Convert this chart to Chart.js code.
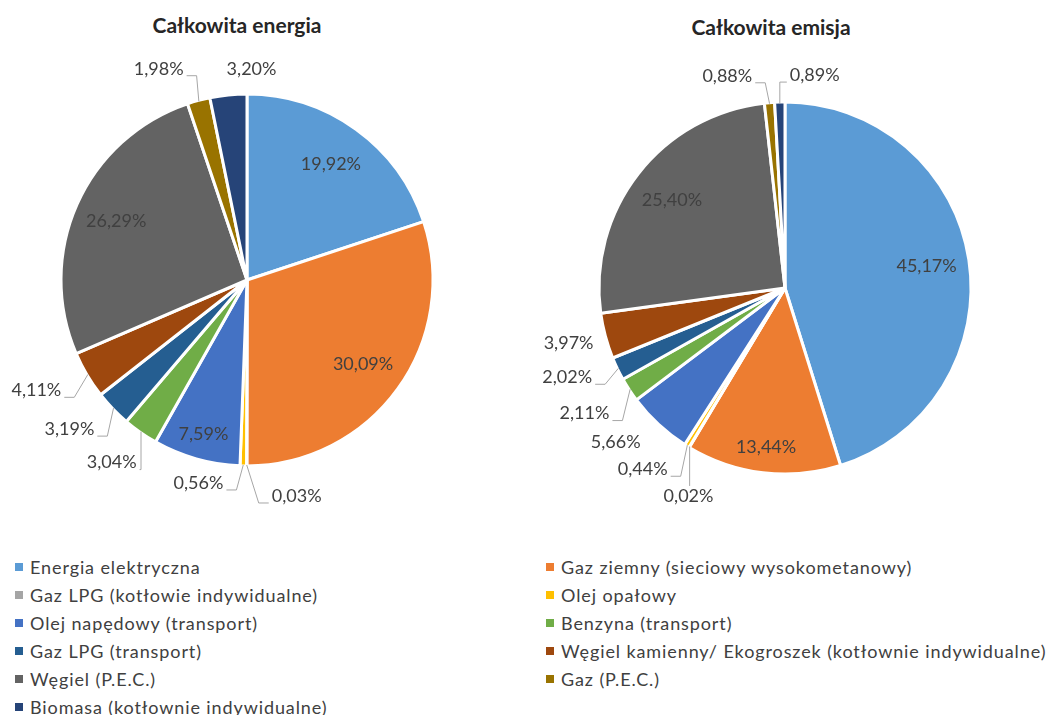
<!DOCTYPE html>
<html lang="pl">
<head>
<meta charset="utf-8">
<title>Całkowita energia i emisja</title>
<script src="https://cdn.jsdelivr.net/npm/chart.js@4.4.1/dist/chart.umd.min.js"></script>
<style>
    body { margin: 0; background: #fff; width: 1055px; height: 715px; position: relative; overflow: hidden; font-family: Lato, sans-serif; }
    .tytul { position: absolute; width: 300px; text-align: center; font: bold 21px Lato, sans-serif; color: #262626; }
    #tytul-energia { left: 87px; top: 12px; }
    #tytul-emisja { left: 621px; top: 14px; }
    #wykres-energia { position: absolute; left: 0; top: 40px; }
    #wykres-emisja { position: absolute; left: 520px; top: 48px; }
    #legenda { position: absolute; left: 15px; top: 553px; display: grid; grid-template-columns: 531px 500px; }
    .pozycja { display: flex; align-items: center; height: 28px; font-size: 18px; letter-spacing: 0.9px; color: #404040; white-space: nowrap; }
    .kwadrat { width: 8px; height: 8px; margin-right: 7px; flex: none; }
</style>
</head>
<body>
<div class="tytul" id="tytul-energia"></div>
<div class="tytul" id="tytul-emisja"></div>
<canvas id="wykres-energia" width="494" height="480"></canvas>
<canvas id="wykres-emisja" width="530" height="480"></canvas>
<div id="legenda"></div>

<script>
// Dane: udział nośników w całkowitej energii i emisji (%)
const kategorie = [
    'Energia elektryczna',
    'Gaz ziemny (sieciowy wysokometanowy)',
    'Gaz LPG (kotłowie indywidualne)',
    'Olej opałowy',
    'Olej napędowy (transport)',
    'Benzyna (transport)',
    'Gaz LPG (transport)',
    'Węgiel kamienny/ Ekogroszek (kotłownie indywidualne)',
    'Węgiel (P.E.C.)',
    'Gaz (P.E.C.)',
    'Biomasa (kotłownie indywidualne)'
];
const energia = [19.92, 30.09, 0.03, 0.56, 7.59, 3.04, 3.19, 4.11, 26.29, 1.98, 3.20];
const emisja = [45.17, 13.44, 0.02, 0.44, 5.66, 2.11, 2.02, 3.97, 25.40, 0.88, 0.89];
const tytuly = ['Całkowita energia', 'Całkowita emisja'];

const kolory = ['#5B9BD5', '#ED7D31', '#A5A5A5', '#FFC000', '#4472C4', '#70AD47',
                '#255E91', '#9E480E', '#636363', '#997300', '#264478'];

// Przesunięcia etykiet poza kołem [dx, dy, linia odniesienia]
const ukladEnergia = { 2: [50, -8, 1], 3: [-44, -21, 1], 5: [-7, -1, 1], 6: [-16, -6, 1], 7: [-18, -4, 1], 9: [-30, 5, 1], 10: [27, 12, 0] };
const ukladEmisja = { 2: [19, 16, 1], 3: [-24, -9, 1], 4: [-17, -10, 0], 5: [-13, 3, 1], 6: [-16, -8, 1], 7: [0, -3, 0], 9: [-39, 11, 1], 10: [36, 11, 1] };

const formatuj = v => v.toFixed(2).replace('.', ',') + '%';

// Plugin rysujący etykiety procentowe i linie odniesienia
const etykiety = {
    id: 'etykiety',
    afterDatasetsDraw(chart, args, opts) {
        const ctx = chart.ctx;
        const meta = chart.getDatasetMeta(0);
        const wartosci = chart.data.datasets[0].data;
        ctx.save();
        ctx.font = '18px Lato, sans-serif';
        ctx.fillStyle = '#404040';
        ctx.textAlign = 'center';
        ctx.textBaseline = 'middle';
        ctx.strokeStyle = '#a6a6a6';
        ctx.lineWidth = 1;

        meta.data.forEach((luk, i) => {
            const { x, y, startAngle, endAngle, outerRadius } =
                luk.getProps(['x', 'y', 'startAngle', 'endAngle', 'outerRadius'], true);
            const kat = (startAngle + endAngle) / 2;
            const cos = Math.cos(kat), sin = Math.sin(kat);
            const v = wartosci[i];
            const tekst = formatuj(v);

            if (v >= 6) {
                const k = v < 15 ? 0.86 : 0.77;
                ctx.fillText(tekst, x + cos * outerRadius * k, y + sin * outerRadius * k);
                return;
            }

            const [dx, dy, linia] = opts.uklad[i] || [0, 0, 0];
            const tx = x + cos * (outerRadius + 38) + dx;
            const ty = y + sin * (outerRadius + 38) + dy;
            ctx.fillText(tekst, tx, ty);
            if (!linia) return;

            const w = ctx.measureText(tekst).width;
            const lewo = tx - w / 2, prawo = tx + w / 2, dol = ty + 7;
            const ax = x + cos * (outerRadius - 1), ay = y + sin * (outerRadius - 1);
            ctx.beginPath();
            if (ax > prawo + 2) {
                const sx = prawo + 3;
                ctx.moveTo(sx, dol);
                ctx.lineTo(sx + Math.min(10, ax - sx), dol);
            } else if (ax < lewo - 2) {
                const sx = lewo - 3;
                ctx.moveTo(sx, dol);
                ctx.lineTo(sx - Math.min(10, sx - ax), dol);
            } else {
                ctx.moveTo(ax, ay < ty ? ty - 10 : ty + 10);
            }
            ctx.lineTo(ax, ay);
            ctx.stroke();
        });
        ctx.restore();
    }
};

function utworzWykres(id, dane, uklad) {
    return new Chart(document.getElementById(id), {
        type: 'pie',
        data: {
            labels: kategorie,
            datasets: [{
                data: dane,
                backgroundColor: kolory,
                borderColor: '#ffffff',
                borderWidth: 3,
                radius: 186
            }]
        },
        options: {
            responsive: false,
            animation: false,
            events: [],
            layout: { padding: 0 },
            plugins: {
                legend: { display: false },
                tooltip: { enabled: false },
                etykiety: { uklad }
            }
        },
        plugins: [etykiety]
    });
}

document.getElementById('tytul-energia').textContent = tytuly[0];
document.getElementById('tytul-emisja').textContent = tytuly[1];

utworzWykres('wykres-energia', energia, ukladEnergia);
utworzWykres('wykres-emisja', emisja, ukladEmisja);

// Legenda w dwóch kolumnach
const legenda = document.getElementById('legenda');
kategorie.forEach((nazwa, i) => {
    const poz = document.createElement('div');
    poz.className = 'pozycja';
    poz.innerHTML = `<span class="kwadrat" style="background:${kolory[i]}"></span><span>${nazwa}</span>`;
    legenda.appendChild(poz);
});
</script>
</body>
</html>
